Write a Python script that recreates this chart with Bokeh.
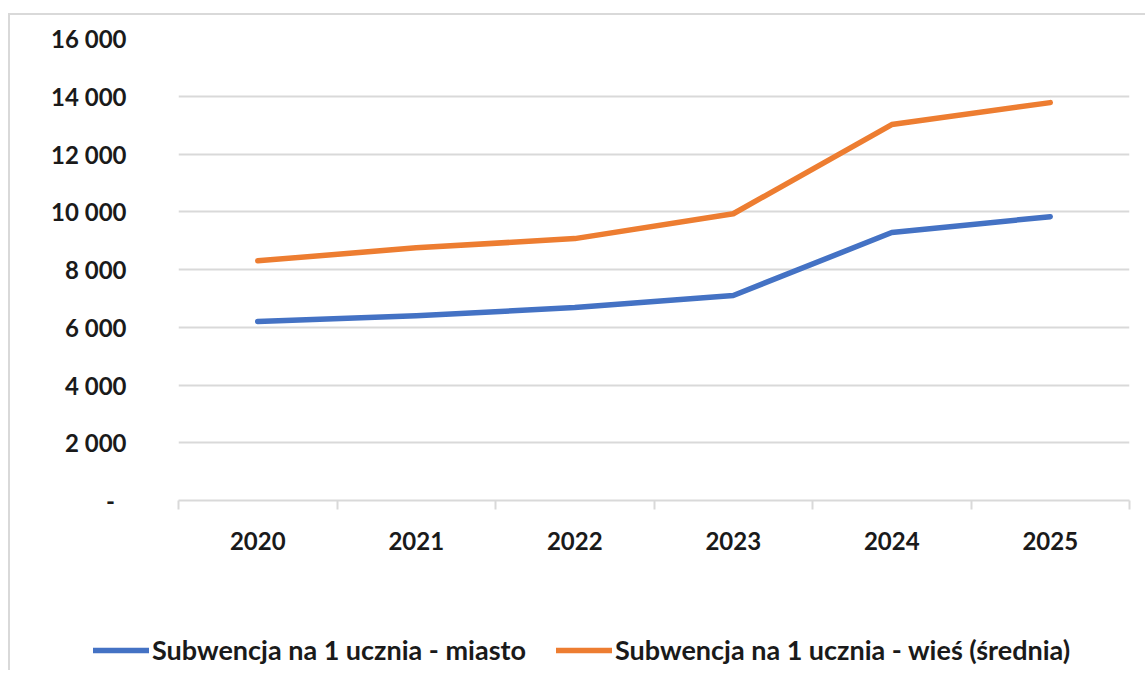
from bokeh.plotting import figure
from bokeh.layouts import column
from bokeh.models import (FixedTicker, CustomJSTickFormatter, Legend, LegendItem, Range1d)
from bokeh.embed import file_html
from bokeh.resources import INLINE

years = [2020, 2021, 2022, 2023, 2024, 2025]
miasto = [6200, 6400, 6680, 7100, 9280, 9830]
wies = [8300, 8750, 9070, 9930, 13020, 13780]
y_ticks = [0, 2000, 4000, 6000, 8000, 10000, 12000, 14000, 16000]
label_miasto = "Subwencja na 1 ucznia - miasto"
label_wies = "Subwencja na 1 ucznia - wieś (średnia)"

FONT = "Lato"
GRID = "#d9d9d9"
BLUE = "#4472C4"
ORANGE = "#ED7D31"
TXT = "#1a1a1a"

W = 1135
p = figure(width=W, height=575, output_backend="svg", toolbar_location=None,
           x_range=Range1d(years[0] - 0.5, years[-1] + 0.5),
           y_range=Range1d(0, 16000),
           min_border_left=168, min_border_right=16,
           min_border_top=23, min_border_bottom=90)
p.frame_align = False
p.outline_line_color = None
p.border_fill_color = "white"

p.line(years, miasto, line_color=BLUE, line_width=5.5, line_cap="round", line_join="round")
p.line(years, wies, line_color=ORANGE, line_width=5.5, line_cap="round", line_join="round")

# x axis
p.xaxis.ticker = FixedTicker(ticks=years, minor_ticks=[y - 0.5 for y in years] + [years[-1] + 0.5])
p.xaxis.axis_line_color = GRID
p.xaxis.axis_line_width = 2
p.xaxis.major_tick_line_color = None
p.xaxis.minor_tick_line_color = GRID
p.xaxis.minor_tick_line_width = 2
p.xaxis.minor_tick_out = 9
p.xaxis.minor_tick_in = 0
p.xaxis.major_label_standoff = 22
p.xaxis.major_label_text_font = FONT
p.xaxis.major_label_text_font_style = "bold"
p.xaxis.major_label_text_font_size = "24px"
p.xaxis.major_label_text_color = TXT
p.xaxis.formatter = CustomJSTickFormatter(code="return String(tick);")
p.xgrid.visible = False

# y axis
p.yaxis.ticker = FixedTicker(ticks=y_ticks)
p.yaxis.axis_line_color = None
p.yaxis.major_tick_line_color = None
p.yaxis.minor_tick_line_color = None
p.yaxis.major_label_standoff = 46
p.yaxis.major_label_text_font = FONT
p.yaxis.major_label_text_font_style = "bold"
p.yaxis.major_label_text_font_size = "24px"
p.yaxis.major_label_text_color = TXT
p.yaxis.formatter = CustomJSTickFormatter(code="""
if (tick == 0) { return '-  '; }
return String(Math.round(tick)).replace(/\\B(?=(\\d{3})+(?!\\d))/g, ' ');
""")
p.ygrid.ticker = FixedTicker(ticks=y_ticks)
p.ygrid.grid_line_color = GRID
p.ygrid.grid_line_width = 2

# legend strip (its own small figure; lines lie outside its view, only legend shows)
p2 = figure(width=W, height=80, output_backend="svg", toolbar_location=None,
            x_range=Range1d(years[0] - 0.5, years[-1] + 0.5), y_range=Range1d(0, 1),
            x_axis_location=None, y_axis_location=None,
            min_border_left=0, min_border_right=0, min_border_top=0, min_border_bottom=0)
p2.frame_align = False
p2.outline_line_color = None
p2.grid.visible = False
l1 = p2.line(years, miasto, line_color=BLUE, line_width=5.5, line_cap="round")
l2 = p2.line(years, wies, line_color=ORANGE, line_width=5.5, line_cap="round")

legend = Legend(items=[LegendItem(label=label_miasto, renderers=[l1]),
                       LegendItem(label=label_wies, renderers=[l2])],
                orientation="horizontal", location=(83, 4),
                label_text_font=FONT, label_text_font_style="bold",
                label_text_font_size="27px", label_text_color=TXT,
                glyph_width=56, glyph_height=28, label_height=28,
                label_standoff=3, spacing=30,
                border_line_color=None, background_fill_alpha=0, padding=0, margin=0)
p2.add_layout(legend, "center")

layout = column(p, p2, spacing=0, margin=(13, 0, 0, 8),
                styles={"border-top": "2px solid #d9d9d9", "border-left": "2px solid #d9d9d9"})

open("out.html", "w").write(file_html(layout, INLINE))
